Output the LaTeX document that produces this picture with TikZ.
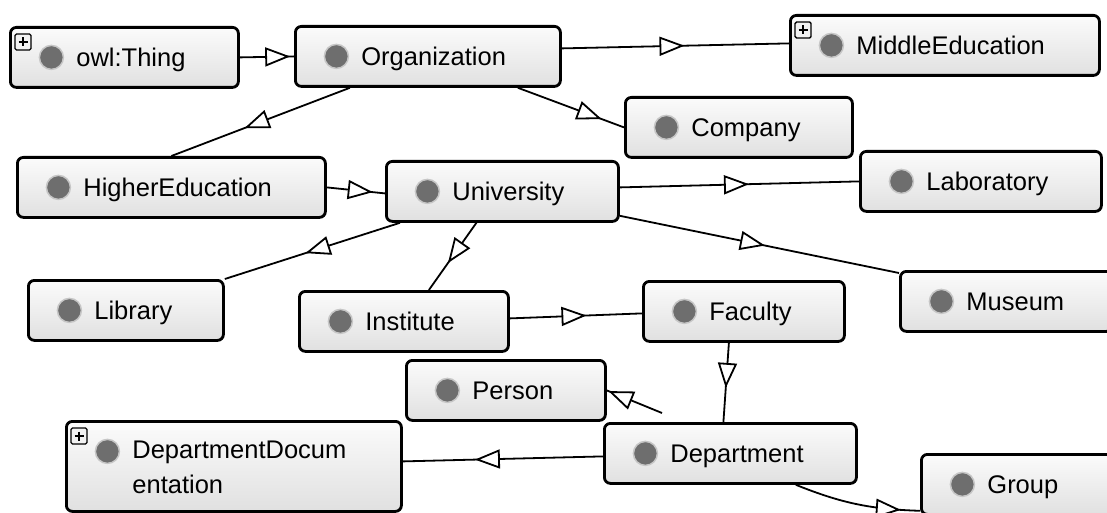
\documentclass[tikz,border=0pt]{standalone}
\usepackage{fontspec}
\setmainfont{Liberation Sans}
\usetikzlibrary{arrows.meta,decorations.markings}

\begin{document}
\begin{tikzpicture}[x=1pt,y=-1pt]
\tikzstyle{cls}=[draw=black, line width=2.8pt, rounded corners=6pt, top color=gray!3, bottom color=gray!24, anchor=north west, minimum height=60pt, inner xsep=0pt, inner ysep=0pt, text height=19pt, text depth=0pt, align=left, font=\fontsize{25.5}{35}\selectfont, execute at begin node={\leftskip=66pt}, path picture={\filldraw[draw=gray!45, fill=black!57, line width=1.5pt] ([shift={(41,30)}]path picture bounding box.north west) circle (12);}]
\tikzstyle{expander}=[draw=black, fill=gray!10, line width=1.4pt, rounded corners=1.5pt]
\tikzset{isa/.style={draw=black, line width=1.8pt, postaction={decorate}, decoration={markings, mark=at position #1 with {\arrow[line width=1.8pt]{Triangle[length=25pt, width=19pt, fill=white]}}}}}

\useasboundingbox (0,0) rectangle (1107,513);
\clip (0,0) rectangle (1107,513);

% classes
\node[cls, text width=228pt] (thing) at (9,26) {owl:Thing};
\node[cls, text width=265pt] (org) at (294,25) {Organization};
\node[cls, text width=309pt] (midedu) at (789,14) {MiddleEducation};
\node[cls, text width=227pt] (company) at (624,96) {Company};
\node[cls, text width=308pt] (higher) at (16,156) {HigherEducation};
\node[cls, text width=232pt] (univ) at (385,160) {University};
\node[cls, text width=241pt] (lab) at (859,150) {Laboratory};
\node[cls, text width=195pt] (library) at (27,279) {Library};
\node[cls, text width=209pt] (institute) at (298,290) {Institute};
\node[cls, text width=201pt] (faculty) at (642,280) {Faculty};
\node[cls, text width=212pt] (museum) at (899,270) {Museum};
\node[cls, text width=199pt] (person) at (405,359) {Person};
\node[cls, text width=252pt] (dept) at (603,422) {Department};
\node[cls, text width=335pt, minimum height=90pt, text depth=35pt] (deptdoc) at (65,420) {DepartmentDocum\\entation};
\node[cls, text width=200pt] (group) at (920,453) {Group};

% expand buttons
\foreach \n in {thing,midedu,deptdoc} {
  \draw[expander] ([shift={(6,8)}]\n.north west) rectangle ++(16,16);
  \draw[line width=2pt] ([shift={(9.5,16)}]\n.north west) -- ++(9,0);
  \draw[line width=2pt] ([shift={(14,11.5)}]\n.north west) -- ++(0,9);
}

% subclass links
\draw[isa=0.93] (thing.east) -- (org.west);
\draw[isa=0.54] ([shift={(0,-8)}]org.east) -- ([shift={(0,-2)}]midedu.west);
\draw[isa=0.79] ([shift={(90,0)}]org.south) -- (company.west);
\draw[isa=0.59] ([shift={(-78,0)}]org.south) -- (higher.north);
\draw[isa=0.79] (higher.east) -- ([shift={(0,2)}]univ.west);
\draw[isa=0.54] ([shift={(0,-4)}]univ.east) -- (lab.west);
\draw[isa=0.52] ([shift={(0,-7)}]univ.south east) -- ([shift={(0,3)}]museum.north west);
\draw[isa=0.54] ([shift={(15,0)}]univ.south west) -- (library.north east);
\draw[isa=0.6] ([shift={(-26,0)}]univ.south) -- ([shift={(25,0)}]institute.north);
\draw[isa=0.58] ([shift={(0,-3)}]institute.east) -- ([shift={(0,2)}]faculty.west);
\draw[isa=0.57] ([shift={(-15,0)}]faculty.south) -- ([shift={(-7,0)}]dept.north);
\draw[isa=0.97] ([shift={(59,-9)}]dept.north west) -- (person.east);
\draw[isa=0.64] ([shift={(0,3)}]dept.west) -- ([shift={(0,-5)}]deptdoc.east);
\draw[isa=0.85] ([shift={(-62,0)}]dept.south east) to[bend right=10] ([shift={(0,-5)}]group.south west);

\end{tikzpicture}
\end{document}
